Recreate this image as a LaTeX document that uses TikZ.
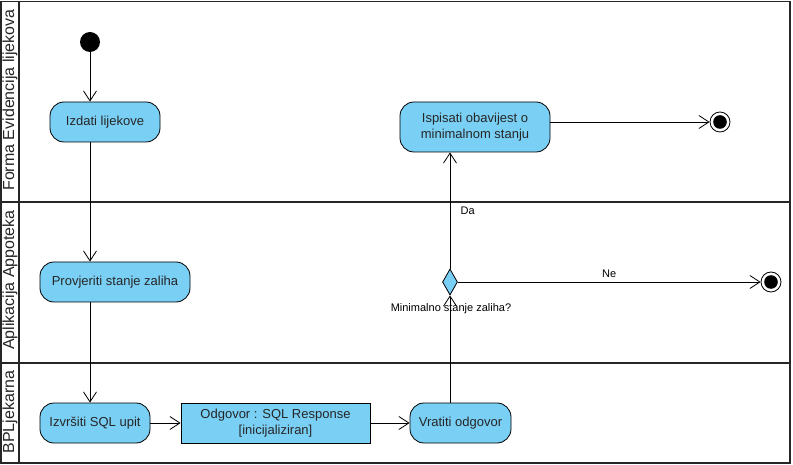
\documentclass[tikz,border=0pt]{standalone}
\usepackage{fontspec}
\setmainfont{Liberation Sans}
\usetikzlibrary{arrows.meta,shapes.geometric,calc}
\definecolor{actblue}{RGB}{122,207,245}
\tikzset{
  act/.style={draw=black, line width=0.8pt, fill=actblue, rounded corners=14pt, minimum height=40pt, inner sep=2pt, align=center, font=\fontsize{13}{16}\selectfont, text=black!85},
  objbox/.style={draw=black, line width=0.8pt, fill=actblue, minimum height=40pt, align=center, font=\fontsize{13}{16}\selectfont, text=black!85},
  flow/.style={draw=black, line width=0.8pt, -{Straight Barb[length=10pt,width=13pt,line width=0.8pt]}},
  lane/.style={line width=1.8pt, draw=black!85},
  lanelabel/.style={rotate=90, font=\fontsize{16}{18}\selectfont, text=black!85},
  small/.style={font=\fontsize{11}{13}\selectfont, text=black},
  initnode/.style={circle, fill=black, minimum size=20pt, inner sep=0pt},
  finalnode/.style={circle, draw=black, line width=0.8pt, fill=white, minimum size=20pt, inner sep=0pt, path picture={\fill[black] (path picture bounding box.center) circle (6.8pt);}},
  decision/.style={diamond, draw=black, line width=0.8pt, fill=actblue, minimum width=15pt, minimum height=26pt, aspect=0.55, inner sep=0pt}
}
\begin{document}
\begin{tikzpicture}[x=1pt,y=-1pt]
\useasboundingbox (0,0) rectangle (793,465);
% swimlanes
\draw[lane] (1,1.5) rectangle (790,463);
\draw[lane] (19,1.5) -- (19,463);
\draw[lane] (1,202) -- (790,202);
\draw[lane] (1,363) -- (790,363);
\node[lanelabel] (l1) at (10,100) {Forma Evidencija lijekova};
\node[lanelabel] (l2) at (10,280) {Aplikacija Appoteka};
\node[lanelabel] (l3) at (10,412) {BPLjekarna};
% nodes
\node[initnode] (init) at (90,42) {};
\node[act, minimum width=110pt] (izdati) at (105,122) {Izdati lijekove};
\node[act, minimum width=150pt] (provjeriti) at (115,282) {Provjeriti stanje zaliha};
\node[act, minimum width=110pt] (izvrsiti) at (95,423) {Izvršiti SQL upit};
\node[objbox, minimum width=189pt] (odgovor) at (275.5,423) {Odgovor : SQL Response\\{}[inicijaliziran]};
\node[act, minimum width=101pt] (vratiti) at (460.5,423) {Vratiti odgovor};
\node[decision] (dec) at (450,282) {};
\node[act, minimum width=150pt, minimum height=50pt] (ispisati) at (475,127) {Ispisati obavijest o\\minimalnom stanju};
\node[finalnode] (fin1) at (720,122) {};
\node[finalnode] (fin2) at (771,282) {};
% connectors
\draw[flow] (init) -- (init |- izdati.north);
\draw[flow] (izdati.south -| init) -- (provjeriti.north -| init);
\draw[flow] (provjeriti.south -| init) -- (izvrsiti.north -| init);
\draw[flow] (izvrsiti) -- (odgovor);
\draw[flow] (odgovor) -- (vratiti);
\draw[flow] (vratiti.north -| dec) -- (dec.south);
\draw[flow] (dec.north) -- (ispisati.south -| dec) node[small, pos=0.5, anchor=west, xshift=7pt] (da) {Da};
\draw[flow] (dec.east) -- (fin2.west) node[small, pos=0.5, above=1pt] (ne) {Ne};
\draw[flow] (ispisati.east |- fin1) -- (fin1.west);
\node[small] (q) at (451,309) {Minimalno stanje zaliha?};
\end{tikzpicture}
\end{document}
